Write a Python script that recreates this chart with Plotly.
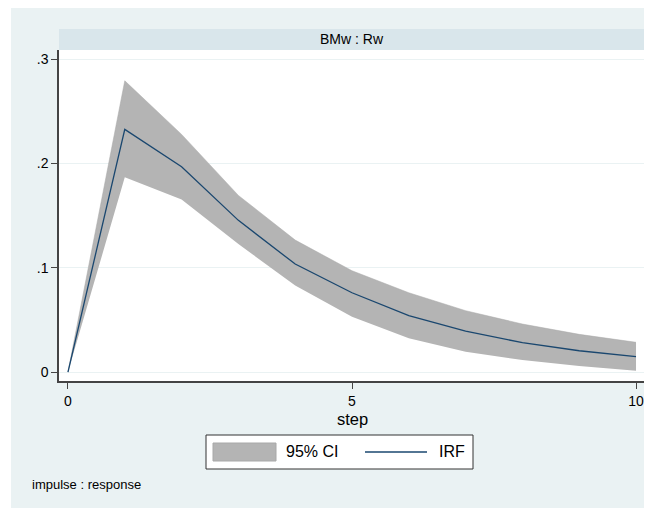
import plotly.graph_objects as go

# Data
steps = [0, 1, 2, 3, 4, 5, 6, 7, 8, 9, 10]
irf = [0.0, 0.2326, 0.1968, 0.1454, 0.1035, 0.0760, 0.0540, 0.0393, 0.0281, 0.0204, 0.0147]
ci_upper = [0.0, 0.2792, 0.2278, 0.1693, 0.1265, 0.0971, 0.0760, 0.0588, 0.0460, 0.0361, 0.0285]
ci_lower = [0.0, 0.1866, 0.1655, 0.1227, 0.0830, 0.0530, 0.0323, 0.0195, 0.0115, 0.0058, 0.0013]
y_tickvals = [0, 0.1, 0.2, 0.3]
y_ticktext = ["0", ".1", ".2", ".3"]
x_tickvals = [0, 5, 10]
panel_title = "BMw : Rw"
note_text = "impulse : response"
legend_labels = ["95% CI", "IRF"]

OFF = 8  # page body margin
W, H = 652 - OFF, 508 - OFF
L, R, T, B = 59 - OFF, 645 - OFF, 50 - OFF, 381 - OFF  # plot area in figure pixels
PW, PH = R - L, B - T

def px(x):
    # reference screen pixel -> paper fraction
    return (x - OFF - L) / PW

def py(y):
    return (B - (y - OFF)) / PH

BG = "#EAF2F3"
STRIP = "#D9E6EB"
BAND = "#B4B4B4"
NAVY = "#1A476F"
FONT = "Liberation Sans, Arial, sans-serif"
TXT = "#000000"

fig = go.Figure()
fig.add_trace(go.Scatter(x=steps, y=ci_lower, mode="lines", line=dict(width=0, color=BAND),
                         showlegend=False, hoverinfo="skip"))
fig.add_trace(go.Scatter(x=steps, y=ci_upper, mode="lines", line=dict(width=0.5, color="#A8A8A8"),
                         fill="tonexty", fillcolor=BAND, name=legend_labels[0], showlegend=False))
fig.add_trace(go.Scatter(x=steps, y=irf, mode="lines", line=dict(width=1.3, color=NAVY),
                         name=legend_labels[1], showlegend=False))

shapes = [
    # white margin on the left
    dict(type="rect", xref="paper", yref="paper", x0=px(OFF - 1), x1=px(11), y0=py(H + OFF + 2), y1=py(OFF - 2),
         fillcolor="white", line=dict(width=0), layer="below"),
    # title strip
    dict(type="rect", xref="paper", yref="paper", x0=0, x1=1, y0=py(50), y1=py(29),
         fillcolor=STRIP, line=dict(width=0), layer="below"),
    # legend box
    dict(type="rect", xref="paper", yref="paper", x0=px(206), x1=px(473), y0=py(469), y1=py(435),
         fillcolor="white", line=dict(width=1, color="#333333"), layer="above"),
    dict(type="rect", xref="paper", yref="paper", x0=px(213), x1=px(276), y0=py(461), y1=py(443),
         fillcolor=BAND, line=dict(width=1, color="#A8A8A8"), layer="above"),
    dict(type="line", xref="paper", yref="paper", x0=px(365), x1=px(427), y0=py(452), y1=py(452),
         line=dict(width=1.3, color=NAVY), layer="above"),
]

annotations = [
    dict(text=panel_title, xref="paper", yref="paper", x=0.5, y=py(39.5), showarrow=False,
         font=dict(size=14, color=TXT, family=FONT), xanchor="center", yanchor="middle"),
    dict(text=legend_labels[0], xref="paper", yref="paper", x=px(284), y=py(452), showarrow=False,
         font=dict(size=16, color=TXT, family=FONT), xanchor="left", yanchor="middle"),
    dict(text=legend_labels[1], xref="paper", yref="paper", x=px(437), y=py(452), showarrow=False,
         font=dict(size=16, color=TXT, family=FONT), xanchor="left", yanchor="middle"),
    dict(text=note_text, xref="paper", yref="paper", x=px(30), y=py(484), showarrow=False,
         font=dict(size=13, color=TXT, family=FONT), xanchor="left", yanchor="middle"),
    dict(text="step", xref="paper", yref="paper", x=0.5, y=py(419), showarrow=False,
         font=dict(size=16.5, color=TXT, family=FONT), xanchor="center", yanchor="middle"),
]

fig.update_layout(
    width=W, height=H,
    margin=dict(l=L, r=W - R, t=T, b=H - B, pad=0),
    paper_bgcolor=BG, plot_bgcolor="white",
    shapes=shapes, annotations=annotations,
    showlegend=False,
    font=dict(family=FONT, color=TXT),
)
fig.update_xaxes(
    range=[-0.158, 10.158], tickmode="array", tickvals=x_tickvals,
    showgrid=False, zeroline=False, showline=True, linecolor="#444444", linewidth=1.5,
    ticks="outside", ticklen=6, tickcolor="#444444", tickwidth=1,
    tickfont=dict(size=14, color=TXT, family=FONT),
)
fig.update_yaxes(
    range=[-0.0086, 0.3087], tickmode="array", tickvals=y_tickvals, ticktext=y_ticktext,
    showgrid=True, gridcolor=BG, gridwidth=1.3, zeroline=False,
    showline=True, linecolor="#444444", linewidth=1.5,
    ticks="outside", ticklen=6, tickcolor="#444444", tickwidth=1,
    tickfont=dict(size=14, color=TXT, family=FONT),
)

fig.write_html("out.html")
